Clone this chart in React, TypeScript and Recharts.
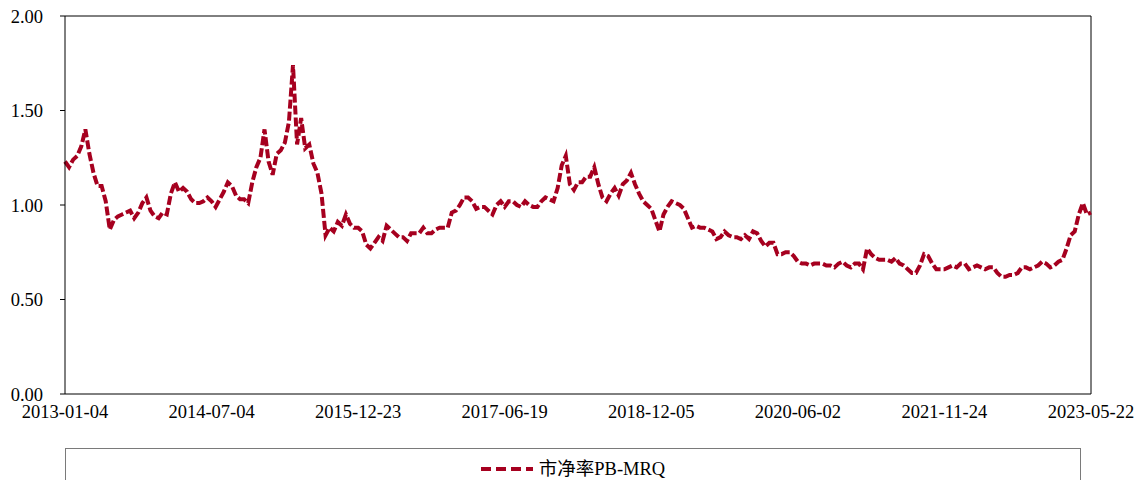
import React from 'react';
import { LineChart, Line, XAxis, YAxis, ReferenceLine } from 'recharts';

const tickLabels = ['2013-01-04', '2014-07-04', '2015-12-23', '2017-06-19', '2018-12-05', '2020-06-02', '2021-11-24', '2023-05-22'];

const yTicks = [0, 0.5, 1, 1.5, 2];

const pbValues = [
  // 2013-01-04 .. 2014-07-04
  1.23, 1.20, 1.24, 1.26, 1.31, 1.40, 1.27, 1.17, 1.10, 1.10, 1.02, 0.87, 0.92, 0.94, 0.95, 0.96, 0.97, 0.93, 0.96, 1.01,
  1.04, 0.97, 0.94, 0.93, 0.96, 0.95, 1.06, 1.12, 1.07, 1.09, 1.07, 1.03, 1.01, 1.01, 1.02, 1.04,
  // 2014-07-04 .. 2015-12-23
  1.02, 0.99, 1.03, 1.07, 1.12, 1.10, 1.05, 1.03, 1.03, 1.01, 1.12, 1.20, 1.25, 1.40, 1.23, 1.16, 1.27, 1.29, 1.33, 1.44,
  1.74, 1.32, 1.46, 1.30, 1.32, 1.22, 1.17, 1.06, 0.84, 0.88, 0.86, 0.91, 0.89, 0.95, 0.90, 0.88,
  // 2015-12-23 .. 2017-06-19
  0.88, 0.86, 0.79, 0.77, 0.80, 0.83, 0.81, 0.89, 0.87, 0.85, 0.83, 0.83, 0.81, 0.85, 0.85, 0.85, 0.88, 0.85, 0.85, 0.87,
  0.88, 0.88, 0.88, 0.96, 0.97, 1.00, 1.04, 1.04, 1.02, 0.98, 0.99, 0.99, 0.97, 0.95, 1.00, 1.02,
  // 2017-06-19 .. 2018-12-05
  0.99, 1.02, 1.02, 1.00, 0.99, 1.02, 1.00, 0.99, 0.99, 1.02, 1.04, 1.03, 1.02, 1.09, 1.21, 1.26, 1.11, 1.08, 1.12, 1.12,
  1.15, 1.15, 1.20, 1.11, 1.04, 1.02, 1.06, 1.09, 1.05, 1.11, 1.13, 1.17, 1.11, 1.06, 1.02, 1.00,
  // 2018-12-05 .. 2020-06-02
  0.98, 0.92, 0.86, 0.95, 0.99, 1.02, 1.01, 1.00, 0.98, 0.93, 0.88, 0.89, 0.88, 0.88, 0.87, 0.86, 0.82, 0.83, 0.86, 0.84,
  0.83, 0.83, 0.82, 0.84, 0.82, 0.86, 0.85, 0.81, 0.78, 0.80, 0.80, 0.74, 0.74, 0.75, 0.75, 0.73,
  // 2020-06-02 .. 2021-11-24
  0.70, 0.69, 0.69, 0.68, 0.69, 0.69, 0.69, 0.68, 0.68, 0.67, 0.69, 0.70, 0.68, 0.67, 0.69, 0.69, 0.66, 0.77, 0.74, 0.72,
  0.71, 0.71, 0.71, 0.70, 0.72, 0.69, 0.68, 0.66, 0.64, 0.64, 0.68, 0.74, 0.73, 0.69, 0.66, 0.66,
  // 2021-11-24 .. 2023-05-22
  0.66, 0.67, 0.68, 0.67, 0.69, 0.69, 0.66, 0.67, 0.68, 0.67, 0.66, 0.67, 0.67, 0.64, 0.62, 0.62, 0.63, 0.63, 0.64, 0.67,
  0.67, 0.66, 0.67, 0.68, 0.70, 0.69, 0.67, 0.68, 0.70, 0.71, 0.77, 0.84, 0.86, 0.95, 1.01, 0.95, 0.96,
];

const seriesName = '市净率PB-MRQ';
const lineColor = '#A6001F';
const fontFamily = "'Liberation Serif', 'Times New Roman', 'Noto Sans CJK SC', serif";

const data = pbValues.map((v, i) => ({ i, pb: v }));
const lastIndex = pbValues.length - 1;
const step = lastIndex / (tickLabels.length - 1);
const xTicks = tickLabels.map((_, k) => k * step);

export default function App() {
  return (
    <div style={{ width: 1140, height: 480, position: 'relative', overflow: 'hidden', marginBottom: -8, fontFamily }}>
      <LineChart width={1140} height={440} data={data} margin={{ top: 8, right: 57, bottom: 0, left: 0 }}>
        <XAxis
          dataKey="i"
          type="number"
          domain={[0, lastIndex]}
          ticks={xTicks}
          interval={0}
          tickFormatter={(v: number) => tickLabels[Math.round(v / step)] ?? ''}
          tickLine={false}
          axisLine={{ stroke: '#000', strokeWidth: 1 }}
          tick={{ fill: '#000', fontSize: 18.5, fontFamily }}
          height={54}
          tickSize={5}
          tickMargin={6}
        />
        <YAxis
          domain={[0, 2]}
          ticks={yTicks}
          interval={0}
          width={57}
          tickSize={5}
          tickMargin={17}
          tickFormatter={(v: number) => v.toFixed(2)}
          axisLine={{ stroke: '#000', strokeWidth: 1 }}
          tickLine={{ stroke: '#000', strokeWidth: 1 }}
          tick={{ fill: '#000', fontSize: 18.5, fontFamily }}
        />
        <ReferenceLine y={2} stroke="#000" strokeWidth={1} />
        <ReferenceLine x={lastIndex} stroke="#000" strokeWidth={1} />
        <Line
          dataKey="pb"
          name={seriesName}
          type="linear"
          stroke={lineColor}
          strokeWidth={4}
          strokeDasharray="9 3"
          dot={false}
          isAnimationActive={false}
        />
      </LineChart>
      <div
        style={{
          position: 'absolute',
          left: 57,
          top: 440,
          width: 1016,
          height: 60,
          border: '1px solid #7a7a7a',
          boxSizing: 'border-box',
        }}
      >
        <div
          style={{
            position: 'absolute',
            left: 0,
            right: 0,
            top: 7,
            height: 26,
            display: 'flex',
            alignItems: 'center',
            justifyContent: 'center',
          }}
        >
          <svg width={52} height={8} style={{ marginRight: 6 }}>
            <line x1={0} y1={4} x2={52} y2={4} stroke={lineColor} strokeWidth={4} strokeDasharray="10 5" />
          </svg>
          <span style={{ fontSize: 18.5, color: '#000', fontFamily: "'Liberation Serif', 'Noto Sans CJK SC', serif", lineHeight: '26px' }}>{seriesName}</span>
        </div>
      </div>
    </div>
  );
}
